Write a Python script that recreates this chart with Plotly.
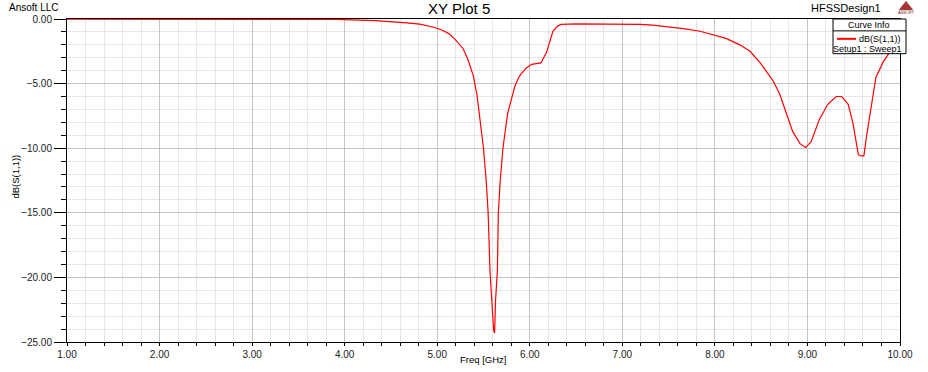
import plotly.graph_objects as go

# ---- data ----
freq_ghz = [1.0, 2.0, 3.0, 3.9, 4.33, 4.52, 4.67, 4.81, 4.95, 5.05, 5.13, 5.20, 5.28, 5.33,
            5.39, 5.43, 5.46, 5.50, 5.53, 5.55, 5.57, 5.59, 5.61, 5.62, 5.63, 5.65, 5.66,
            5.68, 5.71, 5.76, 5.80, 5.84, 5.89, 5.96, 6.02, 6.08, 6.12, 6.18, 6.22, 6.25,
            6.30, 6.34, 6.50, 7.00, 7.19, 7.33, 7.51, 7.66, 7.84, 8.00, 8.12, 8.27, 8.38,
            8.49, 8.57, 8.63, 8.70, 8.77, 8.84, 8.92, 8.98, 9.04, 9.13, 9.22, 9.31, 9.37,
            9.44, 9.49, 9.55, 9.58, 9.61, 9.64, 9.69, 9.74, 9.82, 9.90, 10.0]
s11_db = [-0.02, -0.02, -0.02, -0.03, -0.12, -0.20, -0.30, -0.40, -0.62, -0.85, -1.15, -1.64,
          -2.30, -3.10, -4.40, -5.90, -7.50, -10.0, -12.6, -15.0, -19.5, -22.1, -24.1, -24.3,
          -21.8, -19.5, -15.1, -12.6, -10.0, -7.35, -6.19, -5.17, -4.40, -3.81, -3.51, -3.45,
          -3.40, -2.60, -1.60, -0.95, -0.55, -0.42, -0.38, -0.38, -0.42, -0.48, -0.60, -0.75,
          -0.95, -1.24, -1.50, -2.00, -2.50, -3.40, -4.20, -4.80, -5.80, -7.20, -8.70, -9.65,
          -9.95, -9.50, -7.75, -6.60, -6.00, -6.00, -6.60, -8.00, -10.5, -10.6, -10.6, -9.00,
          -6.70, -4.50, -3.30, -2.45, -1.70]

x_ticks = [1, 2, 3, 4, 5, 6, 7, 8, 9, 10]
y_ticks = [0, -5, -10, -15, -20, -25]

title_text = "XY Plot 5"
company_text = "Ansoft LLC"
design_text = "HFSSDesign1"
x_title = "Freq [GHz]"
y_title = "dB(S(1,1))"
legend_header = "Curve Info"
legend_trace = "dB(S(1,1))"
legend_setup = "Setup1 : Sweep1"

FONT = "Arial, Liberation Sans, sans-serif"

FIG_W, FIG_H = 928, 372
# plot-area geometry in window pixels
L, R, T, B = 67, 900, 19, 345

def px(p):
    return (p - L) / (R - L)
def py(p):
    return (B - p) / (B - T)

fig = go.Figure()
fig.add_trace(go.Scatter(x=freq_ghz, y=s11_db, mode="lines",
                         line=dict(color="#ff0000", width=1.2), showlegend=False,
                         hoverinfo="x+y"))

fig.update_layout(
    width=FIG_W, height=FIG_H,
    margin=dict(l=L, r=FIG_W - R, t=T, b=FIG_H - B),
    paper_bgcolor="white", plot_bgcolor="white",
    font=dict(family=FONT, size=10, color="#000000"),
    showlegend=False,
)

fig.update_xaxes(
    range=[1, 10], tickvals=x_ticks, tickformat=".2f",
    showgrid=True, gridcolor="#c4c4c4", gridwidth=1, zeroline=False,
    showline=True, linecolor="black", linewidth=1, mirror=True,
    ticks="outside", ticklen=3, tickcolor="black",
    minor=dict(dtick=0.2, showgrid=True, gridcolor="#e6e6e6", ticks="outside",
               ticklen=3, tickcolor="black"),
    tickfont=dict(size=10, family=FONT, color="#222222"),
    layer="below traces",
)
fig.update_yaxes(
    range=[-25, 0], tickvals=y_ticks, tickformat=".2f",
    showgrid=True, gridcolor="#c4c4c4", gridwidth=1, zeroline=False,
    showline=True, linecolor="black", linewidth=1, mirror=True,
    ticks="outside", ticklen=12, tickcolor="black",
    minor=dict(dtick=1, showgrid=True, gridcolor="#e6e6e6", ticks="outside",
               ticklen=5, tickcolor="black"),
    tickfont=dict(size=10, family=FONT, color="#222222"),
    layer="below traces",
)

def note(text, x, y, size, anchor="center", angle=0, color="#000000"):
    return dict(text=text, x=px(x), y=py(y), xref="paper", yref="paper",
                showarrow=False, textangle=angle,
                font=dict(size=size, family=FONT, color=color),
                xanchor=anchor, yanchor="middle")

ann = [
    note(title_text, 459, 8, 15),
    note(company_text, 7, 7.5, 10, "left"),
    note(design_text, 883, 7.5, 11, "right"),
    note(x_title, 483, 363, 9.5),
    note(y_title, 16, 178, 9.5, angle=-90),
    note(legend_header, 869, 25, 9),
    note(legend_trace, 903, 39, 9, "right"),
    note(legend_setup, 904, 49, 9, "right"),
    note("ANSOFT", 906, 12, 4, color="#7a1010"),
]
fig.update_layout(annotations=ann)

shapes = [
    dict(type="rect", xref="paper", yref="paper",
         x0=px(833), x1=px(906), y0=py(54), y1=py(19),
         fillcolor="white", line=dict(color="black", width=1), layer="above"),
    dict(type="line", xref="paper", yref="paper",
         x0=px(833), x1=px(906), y0=py(31), y1=py(31),
         line=dict(color="black", width=1), layer="above"),
    dict(type="line", xref="paper", yref="paper",
         x0=px(837), x1=px(856), y0=py(39), y1=py(39),
         line=dict(color="#ff0000", width=2), layer="above"),
    dict(type="path", xref="paper", yref="paper",
         path="M {} {} L {} {} L {} {} Z".format(px(899), py(10), px(913), py(10),
                                                px(906), py(1)),
         fillcolor="#b03030", line=dict(color="#555555", width=0.5), layer="above"),
]
fig.update_layout(shapes=shapes)

# remove the default 8px page margin so the figure fills the window exactly
fig.write_html("out.html",
               config={"displayModeBar": False},
               post_script="document.body.style.margin='0px';"
                           "document.body.style.overflow='hidden';")
